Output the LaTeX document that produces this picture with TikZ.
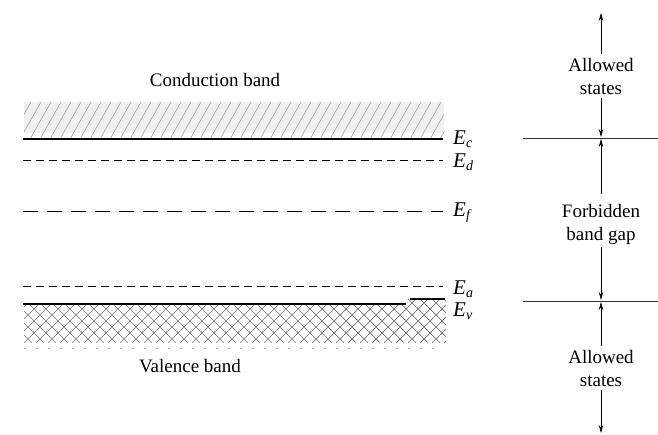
\documentclass[tikz,border=0pt]{standalone}
\usepackage{fontspec}
\setmainfont{Liberation Serif}
\usetikzlibrary{arrows.meta}
\newcommand{\elvl}[1]{\textit{E}\raisebox{-0.3ex}{\fontsize{14}{14}\selectfont\textit{#1}}}
\begin{document}
\begin{tikzpicture}[x=1pt,y=-1pt,
  txt/.style={font=\fontsize{19}{23}\selectfont, align=center, inner sep=0pt},
  elab/.style={font=\fontsize{21}{24}\selectfont, anchor=west, inner sep=0pt},
  bandline/.style={line width=1.6pt},
  shortdash/.style={line width=0.8pt, dash pattern=on 8pt off 5pt},
  longdash/.style={line width=0.8pt, dash pattern=on 15pt off 9pt},
  hatch/.style={gray!75, line width=0.6pt},
  xhatch/.style={black!55, line width=0.7pt},
  refline/.style={black!80, line width=0.8pt},
  arr/.style={line width=0.7pt, -{Stealth[length=8pt,width=4.5pt]}}
]
\useasboundingbox (0,0) rectangle (658,435);
% conduction band
\fill[black!6] (24,102) rectangle (444,133);
\begin{scope}
  \clip (24,102) rectangle (444,139);
  \foreach \i in {0,...,50} {
    \draw[hatch] (10+\i*10,139) -- (10+\i*10+21,102);
  }
\end{scope}
\draw[bandline] (23,139) -- (443,139);
% valence band
\begin{scope}
  \clip (24,304) -- (408,304) -- (408,299) -- (446,299) -- (446,343) -- (24,343) -- cycle;
  \foreach \i in {-4,...,40} {
    \draw[xhatch] (\i*12,343) -- (\i*12+44,299);
    \draw[xhatch] (\i*12,299) -- (\i*12+44,343);
  }
\end{scope}
\draw[bandline] (23,304) -- (406,304);
\draw[bandline] (410,299) -- (445,299);
\draw[gray!70, line width=1pt, dash pattern=on 1.5pt off 10.5pt] (24,348) -- (444,348);
% levels
\draw[shortdash] (23,160) -- (443,160);
\draw[longdash] (23,211) -- (443,211);
\draw[shortdash] (23,286) -- (443,286);
\node[elab] (Ec) at (453,139) {\elvl{c}};
\node[elab] (Ed) at (453,162) {\elvl{d}};
\node[elab] (Ef) at (453,213) {\elvl{f}};
\node[elab] (Ea) at (453,289) {\elvl{a}};
\node[elab] (Ev) at (453,311) {\elvl{v}};
\node[txt] (cb) at (215,80) {Conduction band};
\node[txt] (vb) at (190,366) {Valence band};
% right side
\draw[refline] (523,138) -- (658,138);
\draw[refline] (523,301) -- (658,301);
\node[txt] (a1) at (601,77) {Allowed\\states};
\node[txt] (fg) at (601,224) {Forbidden\\band gap};
\node[txt] (a2) at (601,369) {Allowed\\states};
\coordinate (t1) at (601,13);
\coordinate (t2) at (601,137);
\coordinate (t3) at (601,139);
\coordinate (t4) at (601,300);
\coordinate (t5) at (601,302);
\coordinate (t6) at (601,433);
\draw[arr] ([yshift=5pt]a1.north) -- (t1);
\draw[arr] ([yshift=-3pt]a1.south) -- (t2);
\draw[arr] ([yshift=10pt]fg.north) -- (t3);
\draw[arr] ([yshift=-3pt]fg.south) -- (t4);
\draw[arr] ([yshift=5pt]a2.north) -- (t5);
\draw[arr] ([yshift=-3pt]a2.south) -- (t6);
\end{tikzpicture}
\end{document}
